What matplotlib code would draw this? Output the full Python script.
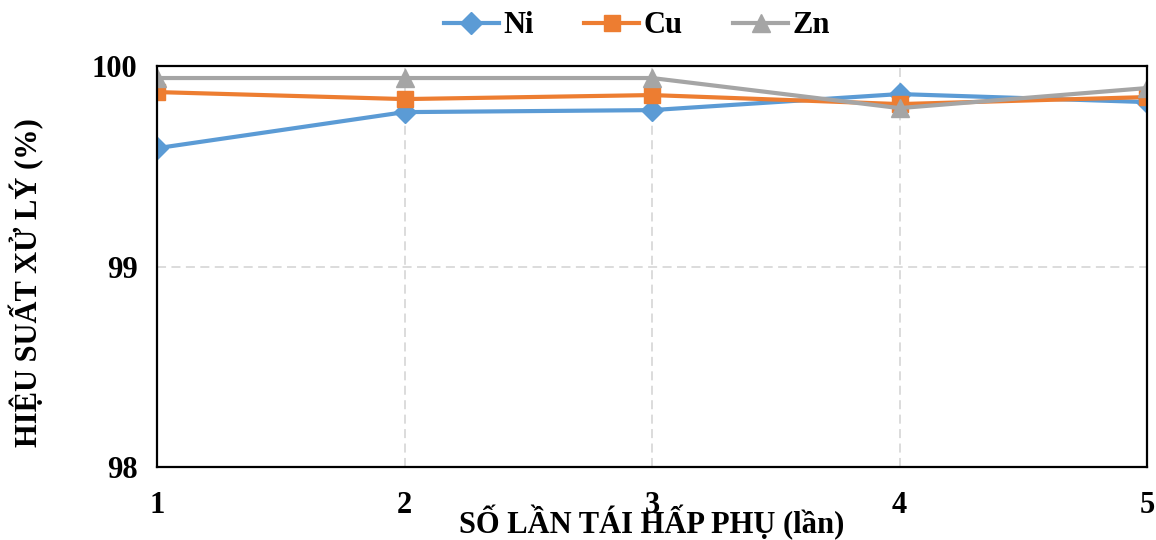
import matplotlib
matplotlib.use("Agg")
import matplotlib.pyplot as plt

plt.rcParams['font.family'] = ['Liberation Serif', 'DejaVu Serif']
plt.rcParams['font.weight'] = 'bold'

cycles = [1, 2, 3, 4, 5]
ni = [99.59, 99.77, 99.78, 99.86, 99.82]
cu = [99.87, 99.835, 99.855, 99.81, 99.845]
zn = [99.94, 99.94, 99.94, 99.79, 99.89]
y_ticks = [98, 99, 100]
x_label = "SỐ LẦN TÁI HẤP PHỤ (lần)"
y_label = "HIỆU SUẤT XỬ LÝ (%)"

fig = plt.figure(figsize=(11.56, 5.4), dpi=100)
ax = fig.add_axes([157/1156, 73/540, 990/1156, 401/540])

ax.plot(cycles, ni, color='#5B9BD5', lw=3, marker='D', ms=11, label='Ni', zorder=3)
ax.plot(cycles, cu, color='#ED7D31', lw=3, marker='s', ms=12, label='Cu', zorder=3)
ax.plot(cycles, zn, color='#A5A5A5', lw=3, marker='^', ms=13, label='Zn', zorder=3)

ax.set_xlim(1, 5)
ax.set_ylim(98, 100)
ax.set_xticks(cycles)
ax.set_yticks(y_ticks)
ax.grid(True, color='#D9D9D9', linestyle=(0, (5, 3)), linewidth=1.3, zorder=0)
ax.set_axisbelow(True)
for s in ax.spines.values():
    s.set_linewidth(1.6)
    s.set_color('black')
    s.set_zorder(4)
ax.tick_params(axis='both', length=0, labelsize=22)
ax.tick_params(axis='x', pad=17)
ax.tick_params(axis='y', pad=14)
for lbl in ax.get_xticklabels() + ax.get_yticklabels():
    lbl.set_fontweight('bold')

fig.text(652/1156, 1 - 523/540, x_label, fontsize=22, fontweight='bold',
         ha='center', va='center')
fig.text(27/1156, 1 - 283/540, y_label, fontsize=22, fontweight='bold',
         ha='center', va='center', rotation=90)

leg = fig.legend(loc='center', bbox_to_anchor=(0.551, 0.952), ncol=3, frameon=False,
                 fontsize=22, handlelength=1.8, columnspacing=1.65, handletextpad=0.15)
for t in leg.get_texts():
    t.set_fontweight('bold')

fig.savefig('out.png', dpi=100)
